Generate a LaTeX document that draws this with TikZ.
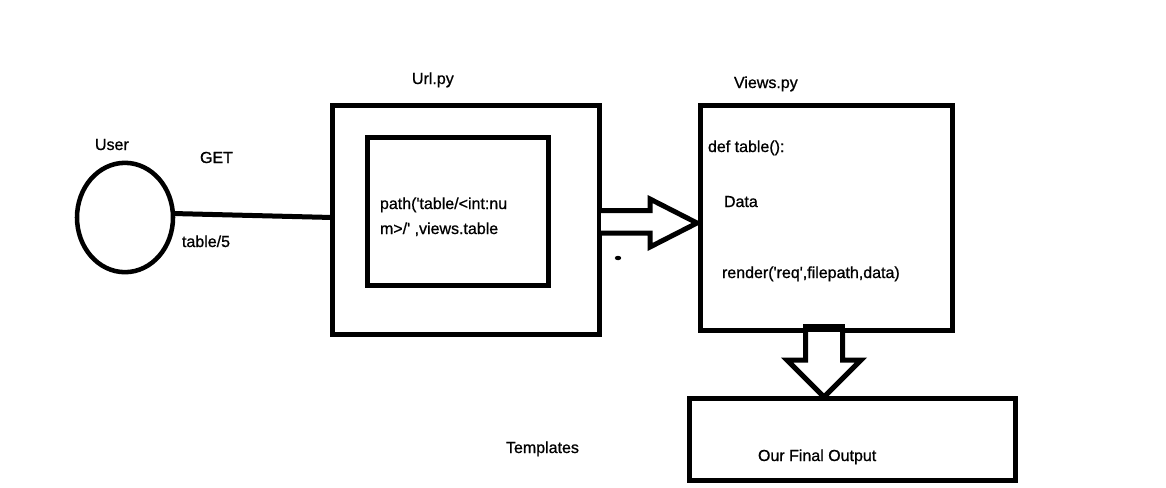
\documentclass[tikz,border=0pt]{standalone}
\usepackage{fontspec}
\setmainfont{Liberation Sans}[Ligatures=TeXOff, FakeBold=0.8]
\usetikzlibrary{shapes.geometric,fit}
\begin{document}
\begin{tikzpicture}[x=0.75pt,y=-0.75pt,
  every node/.style={inner sep=0pt, outer sep=0pt},
  lbl/.style={anchor=base west, font=\fontsize{12}{14}\selectfont},
  thick box/.style={draw, line width=3.75pt, inner sep=0pt},
  conn/.style={line width=3.75pt},
  blockarrow/.style={draw, fill=white, line width=3.75pt, line join=miter}]
\useasboundingbox (0,0) rectangle (1166,487);
% user ellipse
\node[ellipse, draw, line width=3.4pt, minimum width=72pt, minimum height=82pt] (user) at (125,217.5) {};
% boxes
\node[thick box, fit={(332.5,105) (599,334)}] (url) {};
\node[thick box, fit={(367.5,137) (548,285)}] (inner) {};
\node[thick box, fit={(700,105) (952.5,330)}] (views) {};
\node[thick box, fit={(689.5,398.5) (1015,480)}] (out) {};
% connector user -> url
\draw[conn] ([yshift=3pt]user.east) -- ([yshift=1.5pt]url.west);
% right block arrow
\draw[blockarrow] (601,210.5) -- (650,210.5) -- (650,199) -- (697,223) -- (650,247) -- (650,233) -- (601,233);
% small dot
\fill (618,258) ellipse [x radius=3.2, y radius=2.2];
% down block arrow
\draw[blockarrow] (805.5,328) -- (805.5,360) -- (787,360) -- (824,397) -- (861,360) -- (842.5,360) -- (842.5,328);
\fill (803,324) rectangle (845,332);
% labels
\node[lbl] (tuser) at (95,150) {User};
\node[lbl] (tget) at (200,163) {GET};
\node[lbl] (tnum) at (182,247) {table/5};
\node[lbl] (turl) at (412,84) {Url.py};
\node[lbl] (tpath1) at (380,209) {path('table/<int:nu};
\node[lbl] (tpath2) at (380,234) {m>/' ,views.table};
\node[lbl] (tviews) at (734,88) {Views.py};
\node[lbl] (tdef) at (708,152) {def table():};
\node[lbl] (tdata) at (724,207) {Data};
\node[lbl] (trender) at (722,278) {render('req',filepath,data)};
\node[lbl] (ttempl) at (506,453) {Templates};
\node[lbl] (tout) at (758,461) {Our Final Output};
\end{tikzpicture}
\end{document}
